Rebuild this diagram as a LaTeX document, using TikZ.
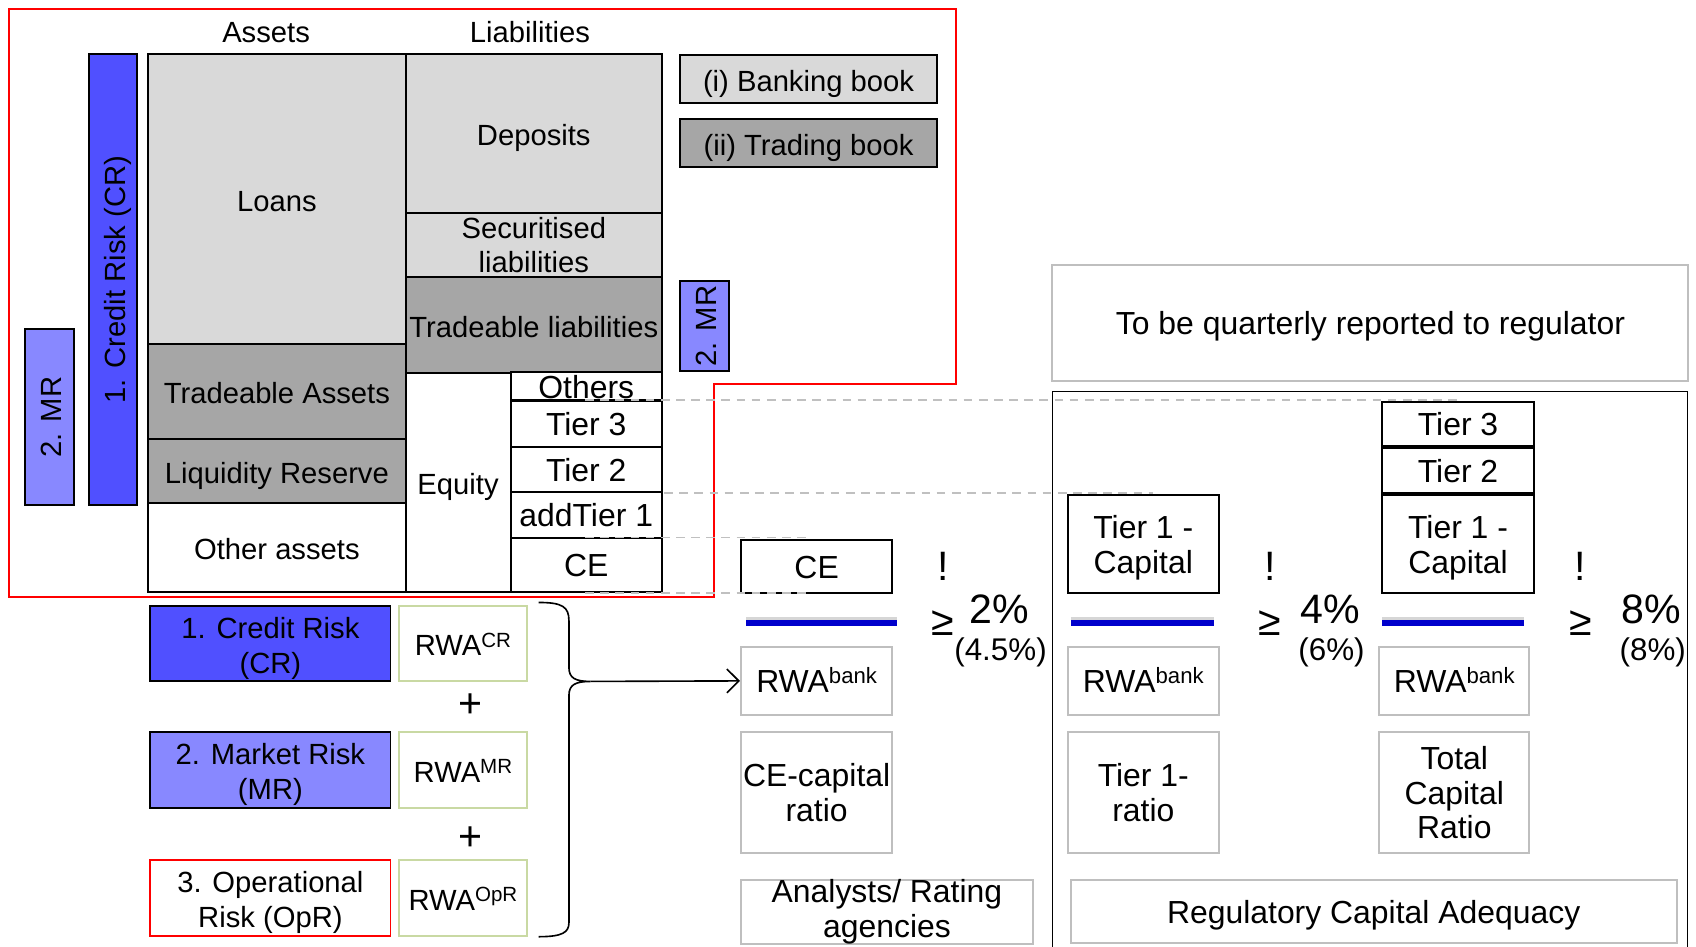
\documentclass[tikz,border=0pt]{standalone}
\usepackage{fontspec}
\setmainfont{Liberation Sans}
\usetikzlibrary{arrows.meta}
\definecolor{lgray}{HTML}{D9D9D9}
\definecolor{dgray}{HTML}{A6A6A6}
\definecolor{crblue}{HTML}{5050FF}
\definecolor{mrblue}{HTML}{8888FF}
\definecolor{bordgray}{HTML}{BFBFBF}
\definecolor{olive}{HTML}{C9D9A3}
\definecolor{barblue}{HTML}{0000CC}
\definecolor{dashgray}{HTML}{C0C0C0}
\newcommand\fA{\fontsize{27}{32}\selectfont}
\newcommand\fD{\fontsize{29.5}{32}\selectfont}
\newcommand\fB{\fontsize{38}{42}\selectfont}
\newcommand\fC{\fontsize{29}{32}\selectfont}
\newcommand\fS{\fontsize{19}{21}\selectfont}
\newcommand\fT{\fontsize{20.5}{22}\selectfont}
\newcommand\supx[1]{\raisebox{8pt}{\fS #1}}
\newcommand\supb[1]{\raisebox{8.5pt}{\fT #1}}
\begin{document}
\begin{tikzpicture}[x=1pt,y=-1pt,
  bx/.style={draw, line width=1.8pt, inner sep=0pt, align=center, font=\fA},
  gbx/.style={draw=bordgray, line width=1.8pt, inner sep=0pt, align=center, font=\fD, fill=white},
  obx/.style={draw=olive, line width=1.8pt, inner sep=0pt, align=center, font=\fA, fill=white},
  sz/.style 2 args={minimum width=#1pt, minimum height=#2pt},
  lbl/.style={inner sep=0pt, align=center, font=\fA},
  sl/.style={text height=22.7pt, text depth=0pt},
  sltwo/.style={text height=22pt, text depth=0pt},
  slc/.style={text height=21pt, text depth=0pt},
  dn/.style={execute at begin node={\rule{0pt}{#1pt}}},
  bar/.style={barblue, line width=5.5pt},
  barshadow/.style={black!16, line width=5pt},
  guide/.style={dashgray, line width=1.5pt, dash pattern=on 8pt off 6pt}]
\useasboundingbox (0,0) rectangle (1568,875);

% red outline (bank balance sheet region)
\draw[red, line width=1.8pt] (8,8) -- (884,8) -- (884,355) -- (660,355) -- (660,552) -- (8,552) -- cycle;

% headers
\node[lbl] (assetsH) at (246,30) {Assets};
\node[lbl] (liabH) at (490,30) {Liabilities};

% vertical risk bars
\node[bx, sl, fill=mrblue, rotate=90, sz={163}{45}] (MRv) at (45.5,385.5) {2. MR};
\node[bx, sl, fill=crblue, rotate=90, sz={417}{45}] (CRv) at (104.5,258.5) {1. Credit Risk (CR)};

% assets column
\node[bx, sl, fill=lgray, sz={238}{268}] (loans) at (256,184) {Loans};
\node[bx, sl, fill=dgray, sz={238}{88}] (tradA) at (256,362) {Tradeable Assets};
\node[bx, sl, fill=dgray, sz={238}{59}] (liqR) at (256,435.5) {Liquidity Reserve};
\node[bx, sl, fill=white, sz={238}{82}] (othA) at (256,506) {Other assets};

% liabilities column
\node[bx, sl, fill=lgray, sz={237}{147}] (depo) at (493.5,123.5) {Deposits};
\node[bx, fill=lgray, sz={237}{59}] (secL) at (493.5,226.5) {Securitised\\liabilities};
\node[bx, sl, fill=dgray, sz={237}{89}] (tradL) at (493.5,300.5) {Tradeable liabilities};
\node[bx, sl, fill=white, sz={97}{202}] (equity) at (423.5,446) {Equity};
\node[bx, sltwo, font=\fD, fill=white, sz={140}{26}] (othersL) at (542,357) {Others};
\node[bx, sltwo, font=\fD, fill=white, sz={140}{42}] (t3L) at (542,392) {Tier 3};
\node[bx, sltwo, font=\fD, fill=white, sz={140}{42}] (t2L) at (542,434) {Tier 2};
\node[bx, sltwo, font=\fD, fill=white, sz={140}{42}] (at1L) at (542,476) {addTier 1};
\node[bx, sltwo, font=\fD, fill=white, sz={140}{50}] (ceL) at (542,522) {CE};

% books legend
\node[bx, sl, fill=lgray, sz={237}{44}] (bank) at (747.5,73) {(i) Banking book};
\node[bx, sl, fill=dgray, sz={237}{44}] (trad) at (747.5,132) {(ii) Trading book};
\node[bx, sl, fill=mrblue, rotate=90, sz={83}{45}] (MRs) at (651.5,301.5) {2. MR};

% lower left: risk types
\node[bx, dn=60, fill=crblue, sz={222}{70}] (cr) at (250,595) {1. Credit Risk\\(CR)};
\node[obx, sl, sz={118}{70}] (rwacr) at (428,595) {RWA\supx{CR}};
\node[lbl, font=\fB] (plus1) at (435,652) {+};
\node[bx, dn=60, fill=mrblue, sz={222}{70}] (mr) at (250,712) {2. Market Risk\\(MR)};
\node[obx, sl, sz={118}{70}] (rwamr) at (428,712) {RWA\supx{MR}};
\node[lbl, font=\fB] (plus2) at (435,775) {+};
\node[bx, dn=60, draw=red, fill=white, sz={222}{70}] (opr) at (250,830) {3. Operational\\Risk (OpR)};
\node[obx, sl, sz={118}{70}] (rwaopr) at (428,830) {RWA\supx{OpR}};

% quarterly report box and regulatory frame
\node[gbx, slc, sz={588}{107}] (quart) at (1267,298.5) {To be quarterly reported to regulator};
\coordinate (regBL) at (973,880);
\coordinate (regTL) at (973,362);
\coordinate (regTR) at (1560,362);
\coordinate (regBR) at (1560,880);
\draw[line width=1.5pt] (regBL) -- (regTL) -- (regTR) -- (regBR);

% CE ratio column
\node[bx, sltwo, font=\fD, fill=white, sz={140}{49}] (ce) at (755,523.5) {CE};
\node[gbx, sltwo, sz={140}{63}] (rwab1) at (755,629.5) {RWA\supb{bank}};
\node[gbx, sz={140}{112}] (cer) at (755,733) {CE-capital\\ratio};
\node[gbx, sz={270}{58}] (analysts) at (820,843) {Analysts/ Rating\\agencies};
\coordinate (b1a) at (690,576); \coordinate (b1b) at (829,576);
\draw[barshadow] ([yshift=3pt]b1a) -- ([yshift=3pt]b1b);
\draw[bar] (b1a) -- (b1b);
\node[lbl, font=\fB] (ex1) at (872,524) {!};
\node[lbl, font=\fB] (ge1) at (872,576) {≥};
\node[lbl, font=\fB] (p1) at (924,563) {2\%};
\node[lbl, font=\fC] (q1) at (925,603) {(4.5\%)};

% Tier 1 ratio column
\node[bx, dn=60, font=\fD, fill=white, sz={140}{90}] (t1a) at (1057,503) {Tier 1 -\\Capital};
\node[gbx, sltwo, sz={140}{63}] (rwab2) at (1057,629.5) {RWA\supb{bank}};
\node[gbx, sz={140}{112}] (t1r) at (1057,733) {Tier 1-\\ratio};
\coordinate (b2a) at (990,576); \coordinate (b2b) at (1122,576);
\draw[barshadow] ([yshift=3pt]b2a) -- ([yshift=3pt]b2b);
\draw[bar] (b2a) -- (b2b);
\node[lbl, font=\fB] (ex2) at (1174,524) {!};
\node[lbl, font=\fB] (ge2) at (1174,576) {≥};
\node[lbl, font=\fB] (p2) at (1230,563) {4\%};
\node[lbl, font=\fC] (q2) at (1231,603) {(6\%)};

% Total capital column
\node[bx, sltwo, font=\fD, fill=white, sz={140}{40}] (t3R) at (1348,392) {Tier 3};
\node[bx, sltwo, font=\fD, fill=white, sz={140}{42}] (t2R) at (1348,435) {Tier 2};
\node[bx, dn=60, font=\fD, fill=white, sz={140}{90}] (t1b) at (1348,503) {Tier 1 -\\Capital};
\node[gbx, sltwo, sz={139}{63}] (rwab3) at (1344.5,629.5) {RWA\supb{bank}};
\node[gbx, sz={139}{112}] (tcr) at (1344.5,733) {Total\\Capital\\Ratio};
\coordinate (b3a) at (1278,576); \coordinate (b3b) at (1409,576);
\draw[barshadow] ([yshift=3pt]b3a) -- ([yshift=3pt]b3b);
\draw[bar] (b3a) -- (b3b);
\node[lbl, font=\fB] (ex3) at (1461,524) {!};
\node[lbl, font=\fB] (ge3) at (1461,576) {≥};
\node[lbl, font=\fB] (p3) at (1527,563) {8\%};
\node[lbl, font=\fC] (q3) at (1528,603) {(8\%)};

\node[gbx, slc, sz={560}{58}] (rca) at (1270,843) {Regulatory Capital Adequacy};

% brace and arrow
\coordinate (brtop) at (498,557);
\coordinate (brtip) at (546,630);
\coordinate (brbot) at (498,866);
\draw[line width=1.5pt] (brtop) .. controls (520,557) and (526,561) .. (526,574) -- (526,617)
  .. controls (526,627) and (532,630) .. (brtip)
  .. controls (532,630) and (526,633) .. (526,643) -- (526,853)
  .. controls (526,862) and (520,866) .. (brbot);
\draw[line width=1.5pt, -{Straight Barb[length=11pt,width=22pt]}] (brtip) -- (rwab1.west);

% guide lines linking capital layers
\coordinate (g1a) at (541,370); \coordinate (g1b) at (1348,370);
\coordinate (g2a) at (614,456); \coordinate (g2b) at (1066,456);
\coordinate (g3a) at (541,497); \coordinate (g3b) at (748,497);
\coordinate (g4a) at (541,548); \coordinate (g4b) at (748,548);
\draw[guide] (g1a) -- (g1b);
\draw[guide] (g2a) -- (g2b);
\draw[guide] (g3a) -- (g3b);
\draw[guide] (g4a) -- (g4b);
\end{tikzpicture}
\end{document}
